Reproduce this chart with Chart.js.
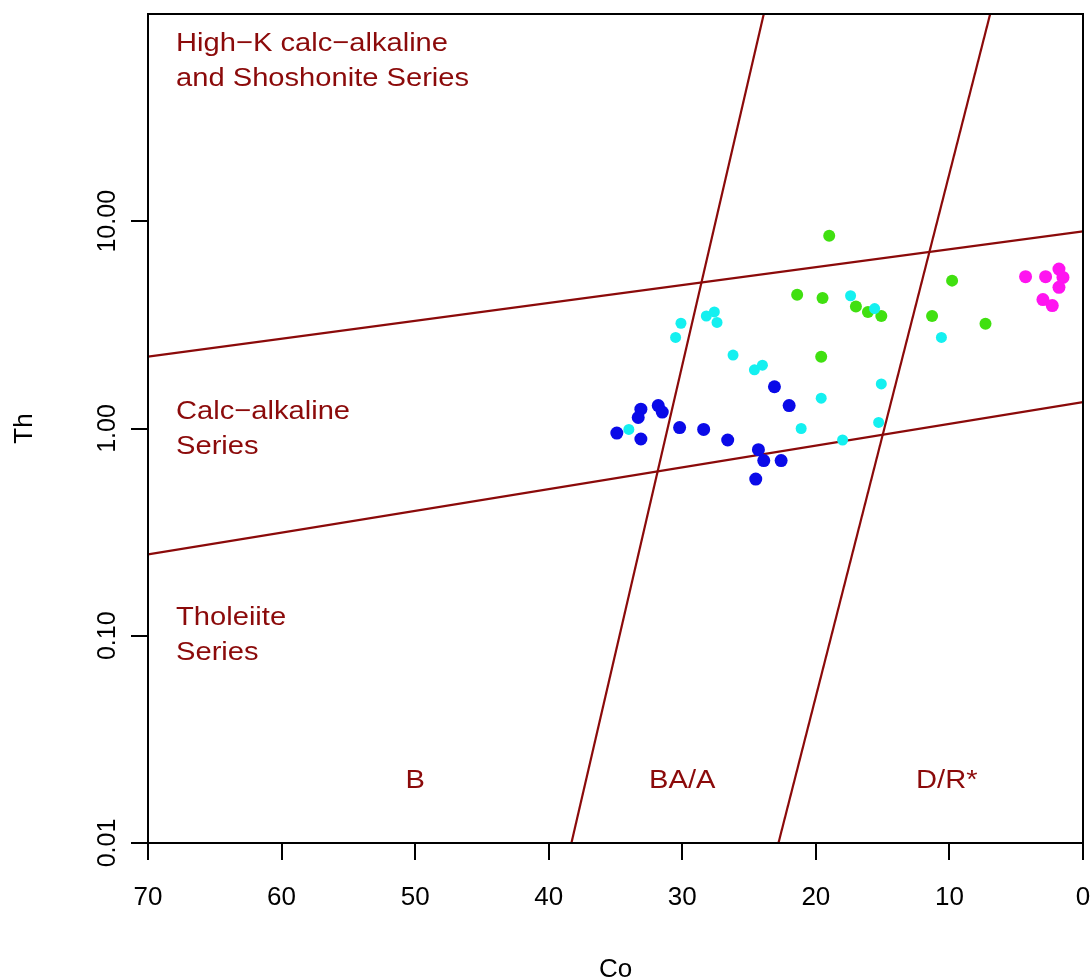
<!DOCTYPE html>
<html>
<head>
<meta charset="utf-8">
<script src="https://cdn.jsdelivr.net/npm/chart.js@4.4.0/dist/chart.umd.min.js"></script>
<style>
  body { margin: 0; background: #fff; }
  #wrap { width: 1092px; height: 979px; position: relative; }
</style>
</head>
<body>
<div id="wrap"><canvas id="myChart"></canvas></div>
<script>
// tick values
const coTicks = [70, 60, 50, 40, 30, 20, 10, 0];
const thTicks = [0.01, 0.1, 1, 10];

// samples
const blueCo = [34.9, 33.1, 33.3, 33.1, 31.8, 31.5, 30.2, 28.4, 26.6, 23.1, 22.0, 24.3, 23.9, 22.6, 24.5];
const blueTh = [0.95, 1.24, 1.13, 0.89, 1.29, 1.20, 1.01, 0.99, 0.88, 1.59, 1.29, 0.79, 0.70, 0.70, 0.57];

const cyanCo = [30.1, 30.5, 28.2, 27.6, 27.4, 17.4, 15.6, 26.2, 24.6, 24.0, 15.1, 19.6, 15.3, 21.1, 18.0, 34.0, 10.6];
const cyanTh = [3.22, 2.75, 3.49, 3.65, 3.25, 4.37, 3.79, 2.26, 1.92, 2.02, 1.64, 1.40, 1.07, 1.00, 0.88, 0.99, 2.75];

const greenCo = [19.0, 21.4, 19.5, 17.0, 16.1, 15.1, 19.6, 9.8, 11.3, 7.3];
const greenTh = [8.51, 4.42, 4.26, 3.88, 3.65, 3.49, 2.22, 5.17, 3.49, 3.20];

const magentaCo = [4.3, 2.8, 1.8, 1.5, 1.8, 3.0, 2.3];
const magentaTh = [5.40, 5.40, 5.88, 5.36, 4.80, 4.19, 3.92];

// field boundaries
const upperCo = [70, 0];
const upperTh = [2.22, 8.93];
const lowerCo = [70, 0];
const lowerTh = [0.247, 1.34];
const leftCo = [38.3, 23.9];
const leftTh = [0.01, 100];
const rightCo = [22.8, 6.95];
const rightTh = [0.01, 100];

const fam = "'Liberation Sans', Arial, Helvetica, sans-serif";
const red = '#8b0a0a';

function pts(xs, ys) {
    return xs.map((v, i) => ({ x: v, y: ys[i] }));
}

function dots(xs, ys, color, r) {
    return {
        data: pts(xs, ys),
        backgroundColor: color,
        borderWidth: 0,
        pointRadius: r,
        order: 1
    };
}

function boundary(xs, ys) {
    return {
        data: pts(xs, ys),
        showLine: true,
        borderColor: red,
        borderWidth: 2.2,
        pointRadius: 0,
        fill: false,
        order: 2
    };
}

// field names, drawn in data coordinates
const fieldText = {
    id: 'fieldText',
    afterDatasetsDraw(chart) {
        const { ctx, chartArea: a, scales: { x, y } } = chart;
        ctx.save();
        ctx.strokeStyle = '#000';
        ctx.lineWidth = 2;
        ctx.strokeRect(a.left, a.top, a.right - a.left, a.bottom - a.top);

        ctx.fillStyle = red;
        ctx.font = '26px ' + fam;
        ctx.textBaseline = 'middle';
        const put = (txt, px, py, align) => {
            ctx.save();
            ctx.translate(px, py);
            ctx.scale(1.12, 1);
            ctx.textAlign = align;
            ctx.fillText(txt, 0, 0);
            ctx.restore();
        };
        const lx = x.getPixelForValue(67.9);
        const blocks = [
            [['High\u2212K calc\u2212alkaline', 'and Shoshonite Series'], 71.6],
            [['Calc\u2212alkaline', 'Series'], 1.21],
            [['Tholeiite', 'Series'], 0.122]
        ];
        blocks.forEach(b => {
            const py = y.getPixelForValue(b[1]);
            b[0].forEach((t, i) => put(t, lx, py + i * 35, 'left'));
        });
        put('B', x.getPixelForValue(50), y.getPixelForValue(0.02), 'center');
        put('BA/A', x.getPixelForValue(30), y.getPixelForValue(0.02), 'center');
        put('D/R*', x.getPixelForValue(10.2), y.getPixelForValue(0.02), 'center');
        ctx.restore();
    }
};

const ctx = document.getElementById('myChart');

new Chart(ctx, {
    type: 'scatter',
    data: {
        datasets: [
            dots(blueCo, blueTh, '#0a0ae8', 6.5),
            dots(cyanCo, cyanTh, '#14f0f0', 5.5),
            dots(greenCo, greenTh, '#40e010', 6),
            dots(magentaCo, magentaTh, '#ff14f0', 6.5),
            boundary(upperCo, upperTh),
            boundary(lowerCo, lowerTh),
            boundary(leftCo, leftTh),
            boundary(rightCo, rightTh)
        ]
    },
    options: {
        responsive: true,
        maintainAspectRatio: false,
        animation: false,
        layout: { padding: { top: 14, right: 9, left: 0, bottom: 0 } },
        plugins: {
            legend: { display: false },
            tooltip: { enabled: false }
        },
        scales: {
            x: {
                type: 'linear',
                min: 0,
                max: 70,
                reverse: true,
                afterBuildTicks: s => { s.ticks = coTicks.map(v => ({ value: v })); },
                afterFit: s => { s.height = 136; s.paddingLeft = 0; s.paddingRight = 0; },
                ticks: {
                    color: '#000',
                    font: { family: fam, size: 26 },
                    padding: 22,
                    maxRotation: 0,
                    autoSkip: false
                },
                grid: { drawOnChartArea: false, tickLength: 17, color: '#000', lineWidth: 2 },
                border: { color: '#000', width: 2 },
                title: {
                    display: true,
                    text: 'Co',
                    color: '#000',
                    font: { family: fam, size: 26, lineHeight: 1 },
                    padding: { top: 0, bottom: -4 }
                }
            },
            y: {
                type: 'logarithmic',
                min: 0.01,
                max: 100,
                afterBuildTicks: s => { s.ticks = thTicks.map(v => ({ value: v })); },
                afterFit: s => { s.width = 148; s.paddingTop = 0; s.paddingBottom = 0; },
                ticks: {
                    color: '#000',
                    font: { family: fam, size: 25 },
                    callback: v => Number(v).toFixed(2),
                    minRotation: 90,
                    maxRotation: 90,
                    crossAlign: 'center',
                    padding: -8,
                    autoSkip: false
                },
                grid: { drawOnChartArea: false, tickLength: 17, color: '#000', lineWidth: 2 },
                border: { color: '#000', width: 2 },
                title: {
                    display: true,
                    text: 'Th',
                    color: '#000',
                    font: { family: fam, size: 26, lineHeight: 1 },
                    padding: { top: 12, bottom: 0 }
                }
            }
        }
    },
    plugins: [fieldText]
});
</script>
</body>
</html>
